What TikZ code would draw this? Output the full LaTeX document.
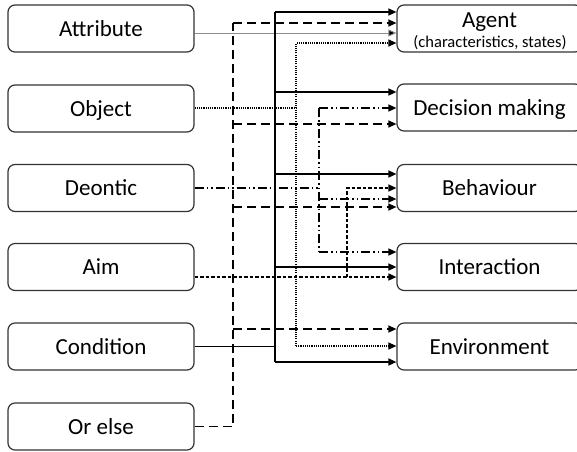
\documentclass[tikz,border=0pt]{standalone}
\usepackage{fontspec}
\setmainfont{Carlito}
\usetikzlibrary{arrows.meta}
\begin{document}
\begin{tikzpicture}[x=1pt,y=-1pt,
  box/.style={draw=black!80, line width=1.2pt, rounded corners=7pt, minimum height=47pt, inner sep=0pt,
    font=\fontsize{23}{27}\selectfont, text height=15pt, text depth=0pt},
  lbox/.style={box, minimum width=186pt},
  rbox/.style={box, minimum width=185pt},
  txt/.style={inner sep=0pt, anchor=base},
  tip/.style={-{Triangle[length=8pt,width=7pt]}},
  solidc/.style={line width=1.5pt},
  dashc/.style={line width=1.4pt, dash pattern=on 9pt off 5pt},
  dotc/.style={line width=1.2pt, dash pattern=on 1.1pt off 1.1pt},
  ddc/.style={line width=1.5pt, dash pattern=on 9pt off 3pt on 1.5pt off 3pt on 1.5pt off 3pt},
  shortc/.style={line width=1.5pt, dash pattern=on 3.5pt off 2pt},
  grayc/.style={line width=0.9pt, draw=black!45}]
\useasboundingbox (0,0) rectangle (577,451);

% left boxes
\node[lbox] (attr)   at (101,28.5)  {Attribute};
\node[lbox] (obj)    at (101,108.5) {Object};
\node[lbox] (deon)   at (101,188)   {Deontic};
\node[lbox] (aim)    at (101,267)   {Aim};
\node[lbox] (cond)   at (101,346.5) {Condition};
\node[lbox] (orelse) at (101,426.5) {Or else};

% right boxes
\node[rbox] (agent) at (489.5,28.5)  {};
\node[txt, font=\fontsize{23}{27}\selectfont] (agentT) at (489.5,27) {Agent};
\node[txt, font=\fontsize{16.5}{18}\selectfont] (agentS) at (490,47.5) {(characteristics, states)};
\node[rbox] (dec)   at (489.5,107.5) {Decision making};
\node[rbox] (beh)   at (489.5,188)   {Behaviour};
\node[rbox] (inter) at (489.5,267)   {Interaction};
\node[rbox] (env)   at (489.5,346.5) {Environment};

% vertical line positions
\coordinate (vE) at (233,0);
\coordinate (vC) at (275,0);
\coordinate (vO) at (296,0);
\coordinate (vD) at (319,0);
\coordinate (vA) at (347,0);
% levels
\foreach \l in {12,23,33,43,92,108,124,174,188,199,207,252,267,277,329,346,362}
  {\coordinate (l\l) at (0,\l);}

% Attribute
\draw[grayc,-{Triangle[length=8pt,width=7pt,fill=black]}] (attr.east |- l33) -- (agent.west |- l33);

% Condition (solid)
\draw[line width=1.8pt] (cond.east) -- (cond.east -| vC);
\draw[solidc] (vC |- l12) -- (vC |- l362);
\draw[solidc,tip] (vC |- l12)  -- (agent.west |- l12);
\draw[solidc,tip] (vC |- l92)  -- (dec.west |- l92);
\draw[solidc,tip] (vC |- l174) -- (beh.west |- l174);
\draw[solidc,tip] (vC |- l267) -- (inter.west |- l267);
\draw[solidc,tip] (vC |- l362) -- (env.west |- l362);

% Or else (dashed)
\draw[dashc] (orelse.east) -| (vE |- l23);
\draw[dashc,tip] (vE |- l23)  -- (agent.west |- l23);
\draw[dashc,tip] (vE |- l124) -- (dec.west |- l124);
\draw[dashc,tip] (vE |- l207) -- (beh.west |- l207);
\draw[dashc,tip] (vE |- l329) -- (env.west |- l329);

% Object (dotted)
\draw[dotc] (obj.east |- l108) -- (vO |- l108);
\draw[dotc,tip] (vO |- l346) -- (vO |- l43) -- (agent.west |- l43);
\draw[dotc,tip] (vO |- l346) -- (env.west |- l346);

% Deontic (dash dot dot)
\draw[ddc] (deon.east) -- (deon.east -| vD);
\draw[ddc] (vD |- l108) -- (vD |- l252);
\draw[ddc,tip] (vD |- l108) -- (dec.west |- l108);
\draw[ddc,tip] (vD |- l199) -- (beh.west |- l199);
\draw[ddc,tip] (vD |- l252) -- (inter.west |- l252);

% Aim (short dashes)
\draw[shortc,tip] (aim.east |- l277) -- (inter.west |- l277);
\draw[shortc,tip] (vA |- l277) -- (vA |- l188) -- (beh.west |- l188);
\end{tikzpicture}
\end{document}
